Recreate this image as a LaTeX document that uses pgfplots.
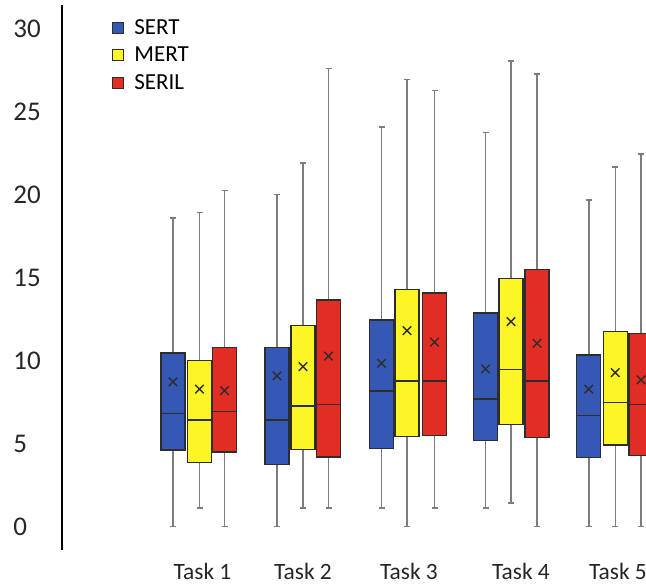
\documentclass[border=0pt]{standalone}
\usepackage{fontspec}
\setmainfont{Carlito}
\usepackage{pgfplots}
\usepgfplotslibrary{statistics}
\pgfplotsset{compat=1.18}
\definecolor{cblue}{RGB}{52,88,180}
\definecolor{cyellow}{RGB}{252,246,38}
\definecolor{cred}{RGB}{226,45,36}
\definecolor{cedge}{RGB}{45,45,45}
\definecolor{cwhisk}{RGB}{125,125,125}
\pgfplotsset{
  sqlegend/.style={legend image code/.code={\draw[##1] (0pt,-3.5pt) rectangle (5.5pt,2pt);}},
  bx/.style={boxplot prepared={#1}, draw=cedge, line width=0.7pt},
}
\begin{document}
\begin{tikzpicture}
\path[use as bounding box] (-31pt,-17.5pt) rectangle (292pt,275pt);
\begin{axis}[
  scale only axis, width=292pt, height=272.5pt,
  xmin=62, xmax=646, ymin=-1.416, ymax=31.42,
  axis lines*=left, x axis line style={draw=none},
  axis line style={line width=0.7pt, black},
  major tick length=0pt,
  ytick={0,5,...,30},
  xtick={202.5,303,409,521,618},
  xticklabels={Task 1,Task 2,Task 3,Task 4,Task 5},
  xticklabel style={font=\fontsize{11.7}{13}\selectfont, text=black!85, anchor=center, inner sep=0pt, yshift=-10.5pt},
  yticklabel style={font=\fontsize{13.5}{15}\selectfont, text=black!85, anchor=west, inner sep=0pt, xshift=-24.5pt},
  /pgf/number format/assume math mode=true,
  boxplot/draw direction=y,
  boxplot/box extend=24, boxplot/whisker extend=6,
  boxplot/every whisker/.style={draw=cwhisk, line width=0.8pt},
  boxplot/every median/.style={draw=cedge, line width=0.8pt},
  boxplot/every box/.style={draw=cedge, line width=0.7pt},
  boxplot/every average/.style={/tikz/mark=x, /tikz/mark size=3pt, /tikz/mark options={draw=black!75, line width=0.6pt}},
  legend style={at={(rel axis cs:0.0856,0.976)}, anchor=north west, draw=none, fill=none, inner sep=0pt,
    row sep=5.75pt, column sep=5pt, font=\fontsize{11.5}{13}\selectfont,
    nodes={inner sep=0pt, text height=8pt, text depth=0pt}},
  legend cell align=left,
]
\addlegendimage{sqlegend, fill=cblue, draw=cedge, line width=0.5pt}
\addlegendentry{SERT}
\addlegendimage{sqlegend, fill=cyellow, draw=cedge, line width=0.5pt}
\addlegendentry{MERT}
\addlegendimage{sqlegend, fill=cred, draw=cedge, line width=0.5pt}
\addlegendentry{SERIL}
% Task 1
\addplot[bx={lower whisker=0, lower quartile=4.61, median=6.82, upper quartile=10.45, upper whisker=18.57, average=8.72, draw position=173}, fill=cblue] coordinates {};
\addplot[bx={lower whisker=1.1, lower quartile=3.84, median=6.4, upper quartile=9.99, upper whisker=18.93, average=8.28, draw position=199.5}, fill=cyellow] coordinates {};
\addplot[bx={lower whisker=0, lower quartile=4.5, median=6.94, upper quartile=10.77, upper whisker=20.25, average=8.18, draw position=224.5}, fill=cred] coordinates {};
% Task 2
\addplot[bx={lower whisker=0, lower quartile=3.72, median=6.4, upper quartile=10.77, upper whisker=20.01, average=9.07, draw position=277}, fill=cblue] coordinates {};
\addplot[bx={lower whisker=1.1, lower quartile=4.65, median=7.26, upper quartile=12.1, upper whisker=21.9, average=9.63, draw position=303}, fill=cyellow] coordinates {};
\addplot[bx={lower whisker=1.1, lower quartile=4.19, median=7.36, upper quartile=13.64, upper whisker=27.6, average=10.27, draw position=328.5}, fill=cred] coordinates {};
% Task 3
\addplot[bx={lower whisker=1.1, lower quartile=4.71, median=8.16, upper quartile=12.44, upper whisker=24.08, average=9.83, draw position=381.5}, fill=cblue] coordinates {};
\addplot[bx={lower whisker=0, lower quartile=5.41, median=8.78, upper quartile=14.29, upper whisker=26.94, average=11.8, draw position=407}, fill=cyellow] coordinates {};
\addplot[bx={lower whisker=1.1, lower quartile=5.47, median=8.78, upper quartile=14.07, upper whisker=26.28, average=11.11, draw position=434.5}, fill=cred] coordinates {};
% Task 4
\addplot[bx={lower whisker=1.1, lower quartile=5.17, median=7.7, upper quartile=12.86, upper whisker=23.75, average=9.49, draw position=485.5}, fill=cblue] coordinates {};
\addplot[bx={lower whisker=1.43, lower quartile=6.16, median=9.45, upper quartile=14.93, upper whisker=28.04, average=12.34, draw position=511}, fill=cyellow] coordinates {};
\addplot[bx={lower whisker=0, lower quartile=5.37, median=8.78, upper quartile=15.49, upper whisker=27.28, average=11.04, draw position=537}, fill=cred] coordinates {};
% Task 5
\addplot[bx={lower whisker=0, lower quartile=4.17, median=6.7, upper quartile=10.33, upper whisker=19.67, average=8.28, draw position=588.7}, fill=cblue] coordinates {};
\addplot[bx={lower whisker=0, lower quartile=4.91, median=7.48, upper quartile=11.76, upper whisker=21.66, average=9.27, draw position=615.3}, fill=cyellow] coordinates {};
\addplot[bx={lower whisker=0, lower quartile=4.27, median=7.36, upper quartile=11.64, upper whisker=22.44, average=8.83, draw position=641}, fill=cred] coordinates {};
\end{axis}
\end{tikzpicture}
\end{document}
